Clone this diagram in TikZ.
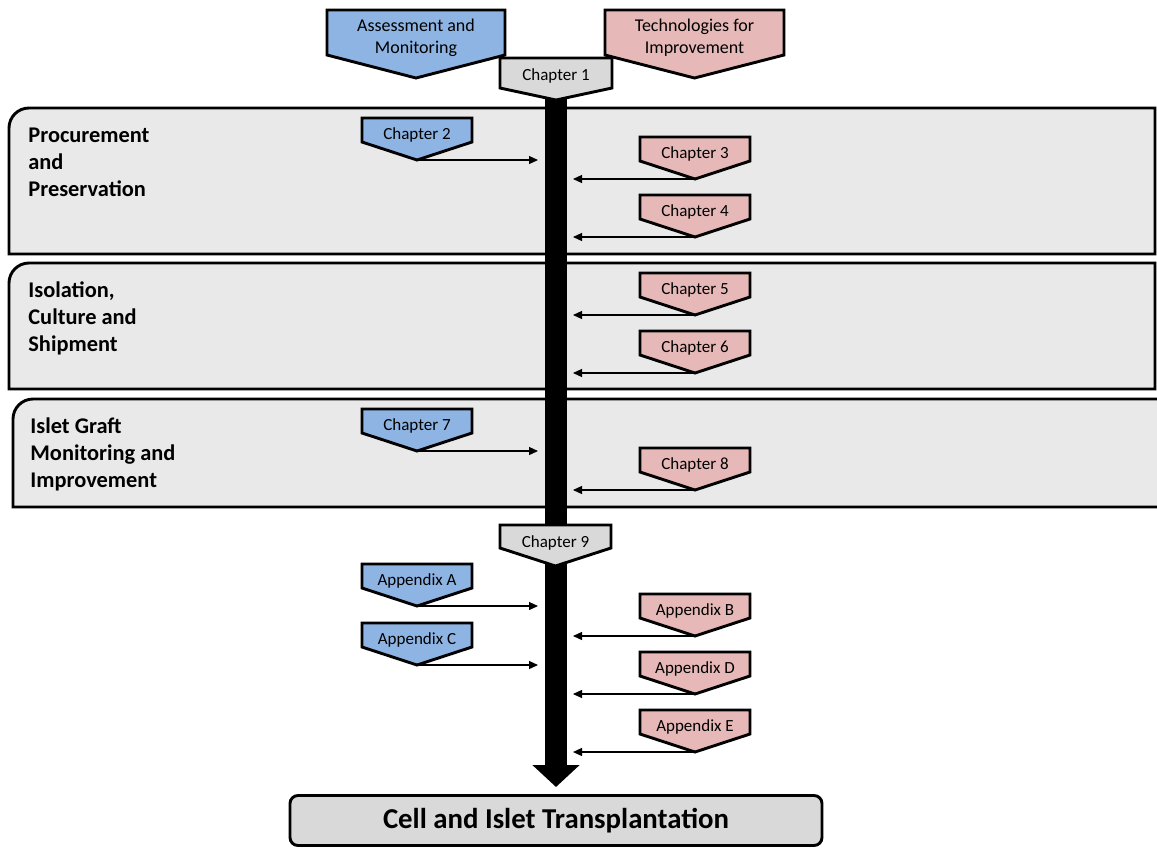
\documentclass[tikz,border=0pt]{standalone}
\usepackage{fontspec}
\setmainfont{Carlito}
\usetikzlibrary{arrows.meta}
\definecolor{assessblue}{RGB}{141,180,226}
\definecolor{improvepink}{RGB}{230,185,184}
\definecolor{phasegray}{RGB}{233,233,233}
\definecolor{coregray}{RGB}{217,217,217}

\begin{document}
\begin{tikzpicture}
        [x=0.5pt, y=-0.5pt,
        outline/.style={draw=black, line width=1.45pt, line join=miter},
        phase/.style={outline, fill=phasegray},
        assess/.style={outline, fill=assessblue},
        improve/.style={outline, fill=improvepink},
        core/.style={outline, fill=coregray},
        chaplabel/.style={font=\fontsize{8.5}{10}\selectfont, inner sep=0pt, anchor=base},
        headlabel/.style={font=\fontsize{9}{11}\selectfont, align=center, inner sep=0pt, anchor=north},
        phaselabel/.style={font=\fontsize{11.2}{13.5}\selectfont\bfseries, align=left, inner sep=0pt, anchor=north west},
        spine/.style={line width=11pt, -{Triangle[width=23pt, length=11pt]}},
        feed/.style={line width=0.6pt, -{Triangle[width=4pt, length=4.5pt]}}]

        \useasboundingbox (0,0) rectangle (1157,848);

        % phase panels
        \draw[phase] (1155,254) -- (9,254) [rounded corners=10pt] -- (9,108) [sharp corners] -- (1155,108) -- cycle;
        \draw[phase] (1155,389) -- (9,389) [rounded corners=10pt] -- (9,263) [sharp corners] -- (1155,263) -- cycle;
        \draw[phase] (1160,507) -- (13,507) [rounded corners=10pt] -- (13,399) [sharp corners] -- (1160,399) -- cycle;

        \node[phaselabel] (procure) at (28,128) {Procurement\\and\\Preservation};
        \node[phaselabel] (isolate) at (28,281) {Isolation,\\Culture and\\Shipment};
        \node[phaselabel] (graft) at (30,417) {Islet Graft\\Monitoring and\\Improvement};

        % main line of the thesis
        \coordinate (spinetop) at (556,90);
        \coordinate (spineend) at (556,787);
        \draw[spine] (spinetop) -- (spineend);
        \coordinate (leftin) at (538,0);
        \coordinate (rightin) at (573,0);

        % column heads
        \draw[assess] (327,10) -- (505,10) -- (505,55) -- (416,78) -- (327,55) -- cycle;
        \draw[improve] (605,10) -- (784,10) -- (784,55) -- (694.5,78) -- (605,55) -- cycle;
        \node[headlabel] (assesshead) at (416,19) {Assessment and\\Monitoring};
        \node[headlabel] (improvehead) at (694.5,19) {Technologies for\\Improvement};

        % chapters on the line
        \draw[core] (500,58) -- (612,58) -- (612,88) -- (556,100) -- (500,88) -- cycle;
        \draw[core] (500,525) -- (611,525) -- (611,548) -- (555.5,566) -- (500,548) -- cycle;
        \node[chaplabel] (ch1) at (556,80) {Chapter 1};
        \node[chaplabel] (ch9) at (555.5,547) {Chapter 9};

        % assessment chapters (left)
        \draw[assess] (362,118) -- ++(110,0) -- ++(0,24) -- ++(-55,18) coordinate (ch2tip) -- ++(-55,-18) -- cycle;
        \draw[assess] (362,409) -- ++(110,0) -- ++(0,24) -- ++(-55,18) coordinate (ch7tip) -- ++(-55,-18) -- cycle;
        \draw[assess] (362,564) -- ++(110,0) -- ++(0,24) -- ++(-55,18) coordinate (apatip) -- ++(-55,-18) -- cycle;
        \draw[assess] (362,623) -- ++(110,0) -- ++(0,24) -- ++(-55,18) coordinate (apctip) -- ++(-55,-18) -- cycle;
        \node[chaplabel] (ch2) at (417,139) {Chapter 2};
        \node[chaplabel] (ch7) at (417,430) {Chapter 7};
        \node[chaplabel] (apa) at (417,585) {Appendix A};
        \node[chaplabel] (apc) at (417,644) {Appendix C};

        % improvement chapters (right)
        \draw[improve] (640,137) -- ++(110,0) -- ++(0,24) -- ++(-55,18) coordinate (ch3tip) -- ++(-55,-18) -- cycle;
        \draw[improve] (640,195) -- ++(110,0) -- ++(0,24) -- ++(-55,18) coordinate (ch4tip) -- ++(-55,-18) -- cycle;
        \draw[improve] (640,273) -- ++(110,0) -- ++(0,24) -- ++(-55,18) coordinate (ch5tip) -- ++(-55,-18) -- cycle;
        \draw[improve] (640,331) -- ++(110,0) -- ++(0,24) -- ++(-55,18) coordinate (ch6tip) -- ++(-55,-18) -- cycle;
        \draw[improve] (640,448) -- ++(110,0) -- ++(0,24) -- ++(-55,18) coordinate (ch8tip) -- ++(-55,-18) -- cycle;
        \draw[improve] (640,594) -- ++(110,0) -- ++(0,24) -- ++(-55,18) coordinate (apbtip) -- ++(-55,-18) -- cycle;
        \draw[improve] (640,652) -- ++(110,0) -- ++(0,24) -- ++(-55,18) coordinate (apdtip) -- ++(-55,-18) -- cycle;
        \draw[improve] (640,710) -- ++(110,0) -- ++(0,24) -- ++(-55,18) coordinate (apetip) -- ++(-55,-18) -- cycle;
        \node[chaplabel] (ch3) at (695,158) {Chapter 3};
        \node[chaplabel] (ch4) at (695,216) {Chapter 4};
        \node[chaplabel] (ch5) at (695,294) {Chapter 5};
        \node[chaplabel] (ch6) at (695,352) {Chapter 6};
        \node[chaplabel] (ch8) at (695,469) {Chapter 8};
        \node[chaplabel] (apb) at (695,615) {Appendix B};
        \node[chaplabel] (apd) at (695,673) {Appendix D};
        \node[chaplabel] (ape) at (695,731) {Appendix E};

        % feeds into the line
        \draw[feed] (ch2tip) -- (ch2tip -| leftin);
        \draw[feed] (ch7tip) -- (ch7tip -| leftin);
        \draw[feed] (apatip) -- (apatip -| leftin);
        \draw[feed] (apctip) -- (apctip -| leftin);
        \draw[feed] (ch3tip) -- (ch3tip -| rightin);
        \draw[feed] (ch4tip) -- (ch4tip -| rightin);
        \draw[feed] (ch5tip) -- (ch5tip -| rightin);
        \draw[feed] (ch6tip) -- (ch6tip -| rightin);
        \draw[feed] (ch8tip) -- (ch8tip -| rightin);
        \draw[feed] (apbtip) -- (apbtip -| rightin);
        \draw[feed] (apdtip) -- (apdtip -| rightin);
        \draw[feed] (apetip) -- (apetip -| rightin);

        % goal
        \node[core, rounded corners=4pt, minimum width=266pt, minimum height=25pt,
              font=\fontsize{14.4}{17}\selectfont\bfseries] (goal) at (556,820.5) {Cell and Islet Transplantation};

\end{tikzpicture}
\end{document}
